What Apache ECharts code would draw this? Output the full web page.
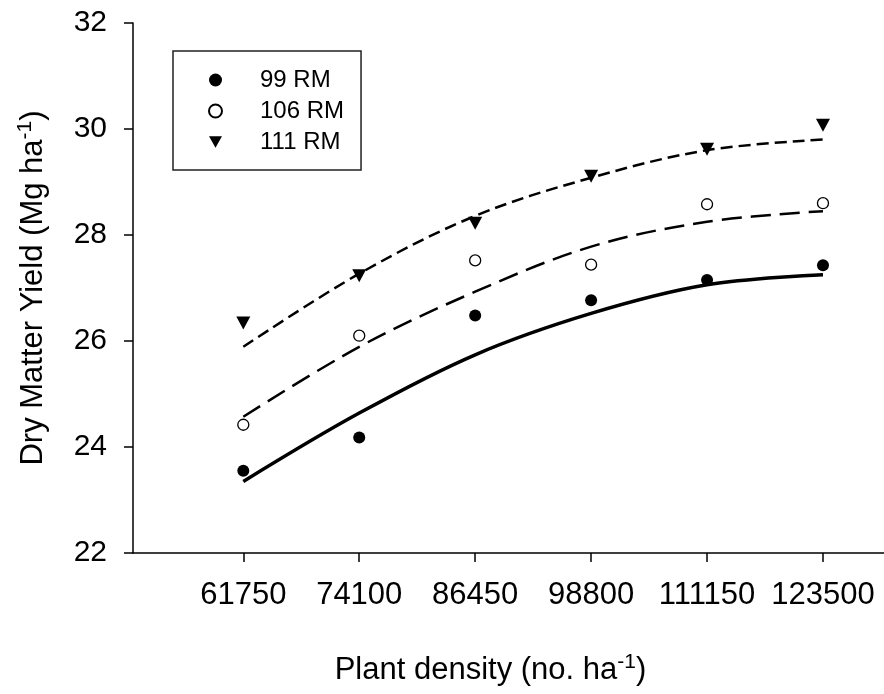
<!DOCTYPE html>
<html>
<head>
<meta charset="utf-8">
<script src="https://cdn.jsdelivr.net/npm/echarts@6/dist/echarts.min.js"></script>
<style>
  html, body { margin: 0; padding: 0; background: #fff; }
  #chart { width: 884px; height: 694px; }
</style>
</head>
<body>
<div id="chart"></div>
<script>
// plant densities (no. ha-1)
var densities = [61750, 74100, 86450, 98800, 111150, 123500];

// observed dry matter yield (Mg ha-1)
var rm99 = [23.55, 24.18, 26.48, 26.77, 27.15, 27.43];
var rm106 = [24.42, 26.10, 27.52, 27.44, 28.58, 28.60];
var rm111 = [26.34, 27.23, 28.22, 29.11, 29.62, 30.07];

// fitted curves
var fit99 = [23.35, 24.64, 25.74, 26.52, 27.06, 27.25];
var fit106 = [24.57, 25.89, 26.93, 27.78, 28.25, 28.45];
var fit111 = [25.89, 27.27, 28.36, 29.08, 29.60, 29.80];

var yTicks = [22, 24, 26, 28, 30, 32];

function pairs(ys) {
  return densities.map(function (x, i) { return [x, ys[i]]; });
}

var FONT = '"Liberation Sans", Arial, sans-serif';
var DOWN_TRIANGLE = 'path://M0,0 L10,0 L5,9 Z';

function fitLine(name, ys, width, dash) {
  return {
    name: name,
    type: 'line',
    data: pairs(ys),
    smooth: 0.35,
    showSymbol: false,
    silent: true,
    z: 1,
    lineStyle: { color: '#000', width: width, type: dash }
  };
}

function points(name, ys, symbol, rotate, filled, size) {
  return {
    name: name,
    type: 'scatter',
    data: pairs(ys),
    symbol: symbol,
    symbolRotate: rotate,
    symbolSize: size,
    z: 3,
    itemStyle: filled
      ? { color: '#000', opacity: 1 }
      : { color: '#fff', borderColor: '#000', borderWidth: 1.3, opacity: 1 }
  };
}

var chart = echarts.init(document.getElementById('chart'));

chart.setOption({
  backgroundColor: '#fff',
  animation: false,
  grid: { left: 133, right: 0, top: 23, bottom: 141, containLabel: false },
  legend: {
    data: [
      { name: '99 RM', icon: 'circle' },
      { name: '106 RM', icon: 'circle' },
      { name: '111 RM', icon: DOWN_TRIANGLE }
    ],
    orient: 'vertical',
    left: 173,
    top: 51,
    itemWidth: 13,
    itemHeight: 13,
    itemGap: 7,
    padding: [17, 17, 16, 35],
    borderColor: '#222',
    borderWidth: 1.5,
    textStyle: { fontFamily: FONT, fontSize: 24, color: '#000', padding: [0, 0, 0, 33] }
  },
  xAxis: {
    type: 'value',
    min: 50000,
    max: 130000,
    name: '{a|Plant density (no. ha}{s|-1}{a|)}',
    nameLocation: 'middle',
    nameGap: 99,
    nameTextStyle: {
      padding: [0, 36, 0, 0],
      rich: {
        a: { fontFamily: FONT, fontSize: 31, color: '#000', lineHeight: 36 },
        s: { fontFamily: FONT, fontSize: 21, color: '#000', verticalAlign: 'top', lineHeight: 36, padding: [0, 0, 16, 0] }
      }
    },
    splitLine: { show: false },
    axisLine: { lineStyle: { color: '#000', width: 1.5 } },
    axisTick: { inside: false, length: 9, customValues: densities, lineStyle: { color: '#000', width: 1.5 } },
    axisLabel: {
      customValues: densities,
      margin: 27,
      fontFamily: FONT,
      fontSize: 31,
      color: '#000',
      formatter: function (v) { return String(v); }
    }
  },
  yAxis: {
    type: 'value',
    min: 22,
    max: 32,
    interval: 2,
    name: '{a|Dry Matter Yield (Mg ha}{s|-1}{a|)}',
    nameLocation: 'middle',
    nameRotate: 90,
    nameGap: 82,
    nameTextStyle: {
      rich: {
        a: { fontFamily: FONT, fontSize: 31, color: '#000', lineHeight: 36 },
        s: { fontFamily: FONT, fontSize: 21, color: '#000', verticalAlign: 'top', lineHeight: 36, padding: [0, 0, 16, 0] }
      }
    },
    splitLine: { show: false },
    axisLine: { show: true, lineStyle: { color: '#000', width: 1.5 } },
    axisTick: { show: true, inside: false, length: 9, customValues: yTicks, lineStyle: { color: '#000', width: 1.5 } },
    axisLabel: {
      customValues: yTicks,
      margin: 26,
      fontFamily: FONT,
      fontSize: 30,
      color: '#000'
    }
  },
  series: [
    fitLine('99 RM fit', fit99, 3.5, 'solid'),
    fitLine('106 RM fit', fit106, 2.5, [20, 9]),
    fitLine('111 RM fit', fit111, 2.5, [12, 6]),
    points('99 RM', rm99, 'circle', 0, true, 12),
    points('106 RM', rm106, 'circle', 0, false, 11),
    points('111 RM', rm111, DOWN_TRIANGLE, 0, true, [14, 13])
  ]
});
</script>
</body>
</html>
